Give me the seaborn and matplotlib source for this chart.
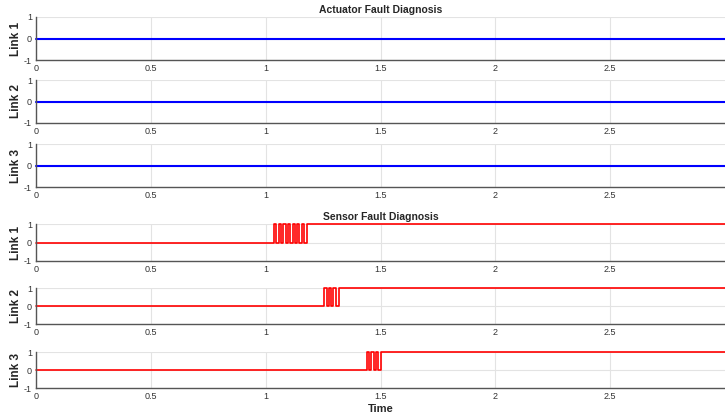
import matplotlib
matplotlib.use("Agg")
import pandas as pd
import matplotlib.pyplot as plt
import seaborn as sns

# Daten: Aktuatorfehler (alle Null)
act_time = [0.0, 3.0]
act_link1 = [0, 0]
act_link2 = [0, 0]
act_link3 = [0, 0]

# Daten: Sensorfehler (Stufensignale, Umschaltzeitpunkte)
sen1_time = [0.0, 1.037, 1.047, 1.057, 1.067, 1.077, 1.087, 1.097, 1.107,
             1.117, 1.127, 1.137, 1.147, 1.157, 1.167, 1.18, 3.0]
sen1_val = [0, 1, 0, 1, 0, 1, 0, 1, 0, 1, 0, 1, 0, 1, 0, 1, 1]
sen2_time = [0.0, 1.254, 1.266, 1.275, 1.283, 1.295, 1.305, 1.32, 3.0]
sen2_val = [0, 1, 0, 1, 0, 1, 0, 1, 1]
sen3_time = [0.0, 1.44, 1.45, 1.46, 1.47, 1.48, 1.49, 1.50, 3.0]
sen3_val = [0, 1, 0, 1, 0, 1, 0, 1, 1]

labels = ["Link 1", "Link 2", "Link 3"]
xticks = [0, 0.5, 1, 1.5, 2, 2.5]
xticklabels = ["0", "0.5", "1", "1.5", "2", "2.5"]

sns.set_style("white")
plt.rcParams['font.family'] = ['Liberation Sans', 'DejaVu Sans']

fig = plt.figure(figsize=(7.25, 4.16), dpi=100)

# Achsenpositionen [links, unten, breite, hoehe]
W = 689 / 725
L = 36 / 725
boxes = [
    (17, 60), (80, 123), (144, 187),
    (224, 261), (288, 324), (352, 388),
]
series = [
    (act_time, act_link1, "#0000ff", 1.5),
    (act_time, act_link2, "#0000ff", 1.5),
    (act_time, act_link3, "#0000ff", 1.5),
    (sen1_time, sen1_val, "#ff0000", 1.2),
    (sen2_time, sen2_val, "#ff0000", 1.2),
    (sen3_time, sen3_val, "#ff0000", 1.2),
]

axes = []
for i, ((top, bot), (t, v, col, lw)) in enumerate(zip(boxes, series)):
    ax = fig.add_axes([L, 1 - bot / 416, W, (bot - top) / 416])
    df = pd.DataFrame({"t": t, "v": v})
    sns.lineplot(data=df, x="t", y="v", ax=ax, color=col, linewidth=lw,
                 drawstyle="steps-post", estimator=None, sort=False,
                 clip_on=False)
    ax.set_xlim(0, 3)
    ax.set_ylim(-1, 1)
    ax.set_xticks(xticks)
    ax.set_xticklabels(xticklabels)
    ax.set_yticks([-1, 0, 1])
    ax.set_yticklabels(["-1", "0", "1"])
    ax.grid(True, color="#e3e3e3", linewidth=0.8)
    ax.set_axisbelow(True)
    for s in ["top", "right"]:
        ax.spines[s].set_visible(False)
    for s in ["left", "bottom"]:
        ax.spines[s].set_color("#555555")
        ax.spines[s].set_linewidth(1.0)
    ax.tick_params(direction="in", length=3, width=0.8, color="#444444",
                   labelsize=6.5, labelcolor="#333333", pad=3)
    ax.set_xlabel("")
    ax.set_ylabel(labels[i % 3], fontsize=8.5, fontweight="bold", labelpad=1)
    axes.append(ax)

axes[0].set_title("Actuator Fault Diagnosis", fontsize=7.5, fontweight="bold", pad=3)
axes[3].set_title("Sensor Fault Diagnosis", fontsize=7.5, fontweight="bold", pad=3)
axes[5].set_xlabel("Time", fontsize=8, fontweight="bold", labelpad=2)

fig.savefig("out.png", dpi=100)
